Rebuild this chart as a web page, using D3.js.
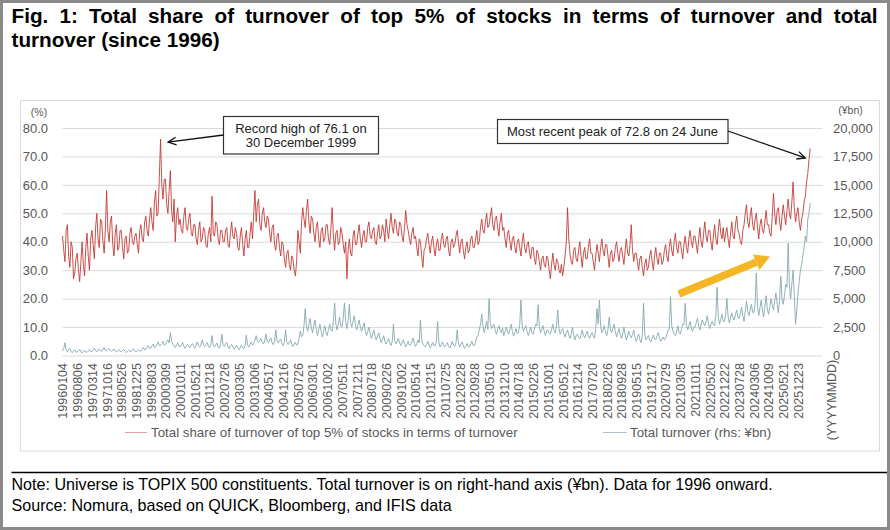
<!DOCTYPE html>
<html>
<head>
<meta charset="utf-8">
<script src="https://cdn.jsdelivr.net/npm/d3@7"></script>
<style>
  body { margin: 0; background: #fff; }
  svg { display: block; font-family: "Liberation Sans", Arial, sans-serif; }
</style>
</head>
<body>
<div id="chart"></div>
<script>
// x-axis category labels (trading dates, YYYYMMDD), one every 12 samples
var dates = ["19960104", "19960806", "19970314", "19971016", "19980526", "19981225", "19990803",
    "20000309", "20001011", "20010521", "20011218", "20020726", "20030305", "20031006", "20040517",
    "20041216", "20050726", "20060301", "20061002", "20070511", "20071211", "20080718", "20090226",
    "20091002", "20100514", "20101215", "20110725", "20120228", "20120928", "20130510", "20131210",
    "20140718", "20150226", "20151001", "20160512", "20161214", "20170720", "20180226", "20180928",
    "20190515", "20191217", "20200729", "20210305", "20211011", "20220520", "20221222", "20230728",
    "20240306", "20241009", "20250521", "20251223"];

// share of turnover of top 5% of stocks (%), 12 samples per label step
var shareTop5 = [
    42, 37, 33, 44, 46, 35, 31, 40, 38, 27, 29, 34,
    36, 30, 26, 33, 40, 32, 28, 38, 43, 35, 30, 41,
    44, 39, 34, 45, 50, 41, 38, 48, 47, 40, 36, 45,
    58, 44, 40, 47, 49, 39, 35, 43, 46, 37, 38, 44,
    44, 38, 34, 41, 42, 36, 37, 43, 45, 40, 39, 42,
    43, 39, 36, 44, 46, 41, 40, 47, 49, 44, 42, 48,
    52, 47, 44, 54, 58, 49, 50, 63, 76.1, 60, 55, 62,
    62, 53, 50, 58, 65, 51, 47, 55, 40, 49, 52, 46,
    48, 44, 43, 49, 52, 45, 44, 48, 50, 43, 42, 46,
    46, 41, 39, 44, 47, 40, 41, 45, 44, 39, 38, 43,
    45, 40, 56, 43, 42, 47, 46, 41, 39, 44, 44, 40,
    40, 44, 45, 39, 38, 43, 47, 42, 41, 45, 43, 38,
    37, 42, 45, 39, 35, 41, 44, 38, 38, 43, 47, 41,
    50, 58, 47, 53, 55, 46, 44, 50, 52, 47, 45, 49,
    48, 43, 40, 45, 46, 39, 37, 42, 43, 38, 35, 40,
    39, 34, 31, 36, 37, 32, 30, 35, 34, 30, 28, 33,
    44, 40, 36, 47, 52, 48, 45, 51, 55, 47, 43, 49,
    48, 43, 40, 45, 47, 41, 38, 44, 45, 40, 41, 46,
    46, 41, 39, 45, 52, 42, 37, 43, 44, 39, 40, 45,
    43, 39, 36, 40, 27, 37, 41, 36, 35, 42, 44, 39,
    39, 43, 46, 41, 38, 42, 44, 40, 40, 45, 47, 42,
    41, 44, 45, 40, 39, 43, 46, 41, 42, 46, 44, 40,
    48, 44, 41, 46, 50, 45, 43, 48, 47, 43, 42, 47,
    46, 42, 40, 45, 51, 46, 44, 41, 39, 43, 45, 41,
    42, 38, 35, 41, 40, 35, 31, 37, 38, 41, 43, 39,
    36, 40, 42, 38, 35, 39, 41, 37, 37, 41, 43, 39,
    38, 41, 42, 37, 35, 40, 41, 38, 39, 42, 44, 40,
    36, 40, 41, 37, 34, 38, 40, 36, 37, 41, 42, 38,
    38, 41, 44, 39, 40, 45, 48, 44, 43, 47, 50, 45,
    46, 49, 52, 46, 44, 48, 49, 45, 42, 47, 50, 44,
    45, 41, 38, 43, 44, 40, 37, 41, 42, 38, 36, 40,
    41, 38, 35, 40, 43, 38, 36, 39, 40, 36, 34, 38,
    38, 34, 32, 37, 36, 33, 30, 34, 35, 32, 31, 35,
    34, 30, 27, 32, 36, 32, 30, 34, 33, 30, 29, 32,
    28, 31, 35, 40, 52, 41, 36, 33, 32, 37, 38, 34,
    33, 37, 40, 35, 31, 36, 38, 34, 34, 38, 41, 36,
    36, 33, 30, 35, 39, 36, 33, 38, 41, 37, 35, 39,
    39, 35, 31, 36, 37, 33, 34, 38, 40, 36, 33, 37,
    38, 35, 32, 37, 41, 36, 35, 39, 46, 37, 33, 36,
    36, 33, 30, 34, 35, 31, 28, 32, 34, 30, 31, 35,
    37, 33, 30, 35, 38, 34, 32, 36, 36, 32, 33, 37,
    39, 35, 33, 38, 41, 37, 35, 40, 43, 38, 36, 40,
    40, 37, 34, 39, 42, 38, 36, 41, 44, 40, 38, 42,
    42, 39, 36, 41, 45, 40, 38, 43, 47, 42, 40, 44,
    44, 40, 37, 42, 46, 41, 39, 44, 48, 43, 41, 45,
    40, 43, 45, 41, 38, 43, 47, 42, 41, 46, 49, 44,
    43, 40, 39, 44, 46, 50, 53, 47, 45, 49, 52, 46,
    44, 48, 50, 45, 41, 46, 48, 44, 43, 47, 51, 46,
    46, 43, 42, 49, 57, 50, 46, 51, 52, 47, 44, 49,
    53, 49, 46, 51, 55, 50, 48, 54, 61, 52, 47, 50,
    52, 47, 44, 48, 50, 54, 56, 61, 64, 69, 72.8
];

// total turnover (rhs, ¥bn), same sampling
var turnover = [
    375, 600, 1125, 450, 300, 500, 625, 350, 250, 450, 500, 300,
    300, 450, 550, 325, 225, 375, 450, 300, 275, 400, 500, 325,
    350, 500, 650, 425, 325, 475, 550, 400, 375, 525, 700, 450,
    400, 525, 625, 450, 350, 475, 575, 400, 300, 425, 500, 375,
    325, 450, 525, 375, 250, 375, 475, 350, 350, 475, 600, 400,
    300, 425, 500, 375, 400, 550, 700, 500, 550, 700, 875, 625,
    625, 850, 1000, 700, 750, 950, 1200, 850, 875, 1050, 1250, 900,
    950, 1200, 1375, 1100, 2000, 1250, 1000, 850, 700, 900, 1125, 850,
    750, 950, 1150, 800, 625, 850, 1000, 775, 700, 900, 1050, 800,
    650, 900, 1200, 850, 750, 1000, 1375, 950, 800, 975, 1125, 825,
    700, 950, 1750, 900, 750, 925, 1100, 800, 650, 1000, 1875, 950,
    800, 1000, 1150, 750, 600, 850, 1000, 700, 550, 725, 900, 650,
    500, 700, 900, 650, 625, 900, 1800, 900, 750, 1000, 1200, 900,
    1050, 1350, 1750, 1250, 1125, 1350, 1500, 1150, 1000, 1300, 1875, 1250,
    1125, 1350, 1550, 1100, 950, 1250, 2250, 1300, 1100, 1300, 1450, 1050,
    875, 1200, 2250, 1150, 950, 1150, 1375, 1000, 800, 1000, 1150, 900,
    1000, 1500, 2125, 1650, 1750, 2600, 4125, 2600, 2125, 2700, 3250, 2400,
    2000, 2600, 3125, 2300, 1750, 2250, 2750, 2100, 1625, 2100, 2625, 2000,
    1750, 2300, 2750, 2250, 2125, 3000, 4625, 2750, 2250, 2800, 3375, 2600,
    2500, 3250, 4625, 3000, 2375, 3100, 4500, 2900, 2500, 3000, 3500, 2700,
    2250, 2700, 3125, 2500, 2125, 2500, 2875, 2200, 1750, 2100, 2500, 1900,
    1500, 1900, 2250, 1700, 1375, 1700, 2000, 1500, 1125, 1400, 1750, 1250,
    1000, 1250, 1500, 1100, 875, 1250, 2750, 1300, 1050, 1250, 1500, 1100,
    875, 1100, 1375, 1000, 750, 1000, 1250, 900, 950, 1200, 1550, 1050,
    800, 1050, 1375, 1100, 3125, 1400, 1000, 850, 750, 950, 1250, 900,
    700, 900, 1150, 850, 875, 1250, 3000, 1200, 750, 950, 1200, 850,
    750, 950, 1125, 800, 650, 900, 1250, 900, 800, 1100, 2250, 1050,
    750, 1000, 1200, 850, 625, 800, 1050, 800, 750, 1000, 1250, 900,
    875, 1200, 1625, 1750, 2250, 2750, 3625, 2600, 2000, 2500, 3000, 2300,
    5000, 2900, 2375, 2600, 2750, 2200, 1875, 2300, 2625, 2200, 2000, 2400,
    1750, 2100, 2500, 2050, 1875, 2300, 2750, 2100, 1700, 2000, 2375, 1900,
    2000, 2700, 4875, 2600, 2125, 2400, 2625, 2100, 1750, 2100, 2500, 2000,
    1875, 2300, 2750, 2600, 4450, 2500, 2000, 2300, 2625, 2100, 1750, 2200,
    2250, 2000, 1875, 2300, 2750, 2200, 2000, 2600, 4000, 2400, 1875, 2200,
    2375, 1900, 1625, 2000, 2250, 1800, 1500, 1900, 2500, 1800, 1375, 1750,
    1875, 1600, 1450, 1800, 2250, 1750, 1550, 1850, 2125, 1700, 1500, 1800,
    2000, 1700, 1500, 2300, 4125, 2800, 4875, 2600, 2000, 2300, 2625, 2000,
    1750, 2300, 3375, 2300, 2000, 2350, 2750, 2100, 1625, 2000, 2375, 1850,
    1500, 1900, 2500, 1800, 1375, 1700, 2125, 1750, 1550, 1850, 2250, 1650,
    1250, 1550, 1875, 1400, 1125, 1800, 4600, 1900, 1375, 1550, 1750, 1350,
    1200, 1500, 1800, 1450, 1375, 1700, 2000, 1550, 1250, 1450, 1625, 1350,
    1500, 1850, 2250, 2300, 5175, 2600, 2125, 1900, 1750, 2100, 2625, 2000,
    1875, 2300, 2750, 2700, 4600, 2700, 2250, 2600, 3000, 2400, 2125, 2500,
    2500, 2900, 3250, 2600, 2250, 2700, 3125, 2800, 2625, 3000, 3500, 2800,
    2375, 2700, 3000, 2700, 2625, 3500, 6000, 3400, 2750, 3200, 3625, 3000,
    3000, 3600, 5000, 3400, 2875, 3300, 3750, 3300, 3125, 3600, 4000, 3400,
    3250, 3700, 4250, 3500, 3000, 3900, 4750, 3900, 3500, 4000, 4500, 3800,
    3750, 4500, 7250, 4300, 3500, 4200, 4875, 4000, 3375, 4300, 5250, 4100,
    3625, 4300, 5000, 4400, 4000, 4800, 5500, 4500, 3750, 5000, 6950, 4900,
    4500, 5300, 6250, 6000, 9875, 6200, 5000, 6300, 7500, 5200, 2750, 4000,
    5500, 6500, 7500, 8000, 8750, 9500, 10500, 10000, 12000, 12500, 13400
];

var leftTicks = [0, 10, 20, 30, 40, 50, 60, 70, 80];
var rightTicks = [0, 2500, 5000, 7500, 10000, 12500, 15000, 17500, 20000];

function init() {
    var w = 890;
    var h = 530;
    var step = 12; // samples per date label
    var left = 62.5, right = 822.5, top = 128, bottom = 355.5;
    var red = "#c3302c";
    var teal = "#86a9ae";
    var grey = "#595959";

    var svg = d3.select("#chart")
        .append("svg")
        .attr("width", w)
        .attr("height", h);

    var x = d3.scaleLinear().domain([0, 620]).range([left, right]);
    var yL = d3.scaleLinear().domain([0, 80]).range([bottom, top]);
    var yR = d3.scaleLinear().domain([0, 20000]).range([bottom, top]);

    // frames
    svg.append("rect")
        .attr("x", 1.5).attr("y", 1.5)
        .attr("width", w - 3).attr("height", h - 3)
        .attr("fill", "none").attr("stroke", "#8a8a8a").attr("stroke-width", 3);
    svg.append("rect")
        .attr("x", 20.5).attr("y", 100.5)
        .attr("width", 859).attr("height", 350.5)
        .attr("fill", "none").attr("stroke", "#d9d9d9").attr("stroke-width", 1);

    // title, first line justified to the full width like the original
    var title1 = svg.append("text")
        .attr("x", 11.5).attr("y", 23)
        .attr("font-size", "20.7px").attr("font-weight", "bold").attr("fill", "#000")
        .text("Fig. 1: Total share of turnover of top 5% of stocks in terms of turnover and total");
    var natural = title1.node().getComputedTextLength();
    var gaps = title1.text().split(" ").length - 1;
    title1.attr("word-spacing", Math.max(0, (866 - natural) / gaps));
    svg.append("text")
        .attr("x", 11.5).attr("y", 46.5)
        .attr("font-size", "20.7px").attr("font-weight", "bold").attr("fill", "#000")
        .text("turnover (since 1996)");

    // gridlines
    svg.append("g")
        .attr("transform", "translate(" + left + ",0)")
        .call(d3.axisLeft(yL).tickValues(leftTicks).tickSize(-(right - left)).tickFormat(""))
        .call(function (g) { g.select(".domain").remove(); })
        .selectAll("line")
        .attr("stroke", "#d9d9d9");

    // left axis
    svg.append("g")
        .attr("transform", "translate(" + left + ",0)")
        .call(d3.axisLeft(yL).tickValues(leftTicks).tickSize(0).tickPadding(14.5).tickFormat(d3.format(".1f")))
        .call(function (g) { g.select(".domain").remove(); })
        .selectAll("text")
        .attr("font-family", "Liberation Sans, Arial, sans-serif")
        .attr("font-size", "13px")
        .attr("fill", grey);

    // right axis
    svg.append("g")
        .attr("transform", "translate(" + right + ",0)")
        .call(d3.axisRight(yR).tickValues(rightTicks).tickSize(0).tickPadding(10.5).tickFormat(d3.format(",")))
        .call(function (g) { g.select(".domain").remove(); })
        .selectAll("text")
        .attr("font-family", "Liberation Sans, Arial, sans-serif")
        .attr("font-size", "13px")
        .attr("fill", grey);

    svg.append("text").text("(%)")
        .attr("x", 39).attr("y", 115.5)
        .attr("text-anchor", "middle").attr("font-size", "10.5px").attr("fill", grey);
    svg.append("text").text("(¥bn)")
        .attr("x", 850.5).attr("y", 114)
        .attr("text-anchor", "middle").attr("font-size", "10.5px").attr("fill", grey);

    // bottom axis with rotated date labels
    svg.append("g")
        .attr("transform", "translate(0," + bottom + ")")
        .call(d3.axisBottom(x)
            .tickValues(dates.map(function (d, i) { return i * step; }))
            .tickSize(0)
            .tickFormat(function (d) { return dates[d / step]; }))
        .call(function (g) { g.select(".domain").remove(); })
        .selectAll("text")
        .attr("font-family", "Liberation Sans, Arial, sans-serif")
        .attr("font-size", "12.5px")
        .attr("fill", grey)
        .attr("text-anchor", "end")
        .attr("transform", "rotate(-90)")
        .attr("x", -7.5)
        .attr("y", 0)
        .attr("dy", "0.35em");

    svg.append("text").text("(YYYYMMDD)")
        .attr("transform", "translate(832,400) rotate(-90)")
        .attr("text-anchor", "middle")
        .attr("dy", "0.35em")
        .attr("font-size", "12.5px")
        .attr("fill", grey);

    // series
    var lineTurn = d3.line()
        .x(function (d, i) { return x(i); })
        .y(function (d) { return yR(d); });
    var lineShare = d3.line()
        .x(function (d, i) { return x(i); })
        .y(function (d) { return yL(d); });

    svg.append("path")
        .datum(turnover)
        .attr("d", lineTurn)
        .attr("fill", "none")
        .attr("stroke", teal)
        .attr("stroke-width", 0.9);

    svg.append("path")
        .datum(shareTop5)
        .attr("d", lineShare)
        .attr("fill", "none")
        .attr("stroke", red)
        .attr("stroke-width", 0.85);

    // yellow trend arrow
    var ax0 = x(41.9 * step), ay0 = yL(21.6), ax1 = x(48.1 * step), ay1 = yL(34.8);
    var ang = Math.atan2(ay1 - ay0, ax1 - ax0);
    var hl = 15, hw = 8.5;
    var bx = ax1 - hl * Math.cos(ang), by = ay1 - hl * Math.sin(ang);
    svg.append("line")
        .attr("x1", ax0).attr("y1", ay0).attr("x2", bx).attr("y2", by)
        .attr("stroke", "#f5b625").attr("stroke-width", 7.5);
    svg.append("path")
        .attr("d", "M" + ax1 + "," + ay1 +
            "L" + (bx + hw * Math.sin(ang)) + "," + (by - hw * Math.cos(ang)) +
            "L" + (bx - hw * Math.sin(ang)) + "," + (by + hw * Math.cos(ang)) + "Z")
        .attr("fill", "#f5b625");

    // annotations
    function arrow(x1, y1, x2, y2) {
        var a = Math.atan2(y2 - y1, x2 - x1);
        var l = 9, s = 0.45;
        svg.append("line")
            .attr("x1", x1).attr("y1", y1).attr("x2", x2).attr("y2", y2)
            .attr("stroke", "#111").attr("stroke-width", 1.3);
        svg.append("path")
            .attr("d", "M" + (x2 - l * Math.cos(a - s)) + "," + (y2 - l * Math.sin(a - s)) +
                "L" + x2 + "," + y2 +
                "L" + (x2 - l * Math.cos(a + s)) + "," + (y2 - l * Math.sin(a + s)))
            .attr("fill", "none").attr("stroke", "#111").attr("stroke-width", 1.3);
    }

    var peak1 = shareTop5.indexOf(76.1), peak2 = shareTop5.length - 1;
    svg.append("rect")
        .attr("x", 223.5).attr("y", 116.5).attr("width", 155).attr("height", 37.5)
        .attr("fill", "#fff").attr("stroke", "#333").attr("stroke-width", 1.2);
    var t1 = svg.append("text")
        .attr("text-anchor", "middle").attr("font-size", "13px").attr("fill", "#222");
    t1.append("tspan").attr("x", 301).attr("y", 132.5).text("Record high of 76.1 on");
    t1.append("tspan").attr("x", 301).attr("y", 147).text("30 December 1999");
    arrow(223.5, 135, x(peak1) + 7.5, yL(shareTop5[peak1]) + 3);

    svg.append("rect")
        .attr("x", 497.5).attr("y", 119.5).attr("width", 230.5).attr("height", 24)
        .attr("fill", "#fff").attr("stroke", "#333").attr("stroke-width", 1.2);
    svg.append("text").text("Most recent peak of 72.8 on 24 June")
        .attr("x", 612.5).attr("y", 136)
        .attr("text-anchor", "middle").attr("font-size", "13px").attr("fill", "#222");
    arrow(728, 131, x(peak2) - 5, yL(shareTop5[peak2]) + 9.5);

    // legend
    svg.append("line")
        .attr("x1", 125).attr("x2", 147).attr("y1", 432.5).attr("y2", 432.5)
        .attr("stroke", "#e3a3a1").attr("stroke-width", 1);
    svg.append("text").text("Total share of turnover of top 5% of stocks in terms of turnover")
        .attr("x", 151).attr("y", 436.5).attr("font-size", "13.3px").attr("fill", grey);
    svg.append("line")
        .attr("x1", 603).attr("x2", 627).attr("y1", 432.5).attr("y2", 432.5)
        .attr("stroke", "#a9c3c6").attr("stroke-width", 1);
    svg.append("text").text("Total turnover (rhs: ¥bn)")
        .attr("x", 630).attr("y", 436.5).attr("font-size", "13.3px").attr("fill", grey);

    // note and source
    svg.append("line")
        .attr("x1", 11.5).attr("x2", 887).attr("y1", 472.5).attr("y2", 472.5)
        .attr("stroke", "#000").attr("stroke-width", 1.5);
    svg.append("text").text("Note: Universe is TOPIX 500 constituents. Total turnover is on right-hand axis (¥bn). Data for 1996 onward.")
        .attr("x", 11.5).attr("y", 490).attr("font-size", "16.1px").attr("fill", "#000");
    svg.append("text").text("Source: Nomura, based on QUICK, Bloomberg, and IFIS data")
        .attr("x", 11.5).attr("y", 511).attr("font-size", "16.1px").attr("fill", "#000");
}

window.onload = init;
</script>
</body>
</html>
